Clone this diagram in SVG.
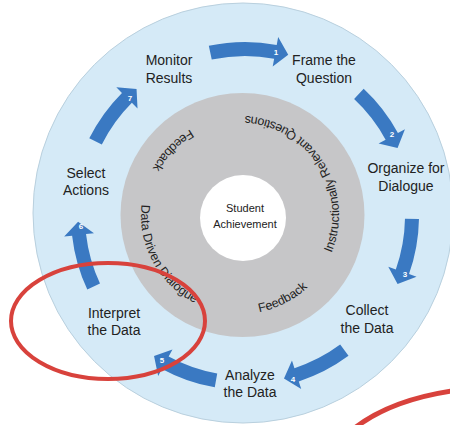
<svg xmlns="http://www.w3.org/2000/svg" xmlns:xlink="http://www.w3.org/1999/xlink" width="450" height="425" viewBox="0 0 450 425">
<style>
.lbl{font-family:"Liberation Sans","Open Sans",Arial,sans-serif;font-size:14px;fill:#222;text-anchor:middle}
.ring{font-family:"Liberation Sans","Open Sans",Arial,sans-serif;font-size:12.5px;fill:#222}
.ctr{font-family:"Liberation Sans","Open Sans",Arial,sans-serif;font-size:11px;fill:#222;text-anchor:middle}
.num{font-family:"Liberation Sans",Arial,sans-serif;font-size:8px;font-weight:bold;fill:#fff;text-anchor:middle}
.arr{fill:#3a79c2}
.red{fill:none;stroke:#d8423c;stroke-linecap:round}
</style>
<defs>
<path id="arrowStd" class="arr" d="M170.51,-34.69 A174 174 0 0 1 172.70,21.21 L180.64,22.18 L163.65,33.30 L150.87,18.52 L158.81,19.50 A160 160 0 0 0 156.79,-31.90 Z"/>
<path id="arrowLong" class="arr" d="M169.19,-40.62 A174 174 0 0 1 171.86,27.22 L179.76,28.47 L162.39,38.99 L150.13,23.78 L158.03,25.03 A160 160 0 0 0 155.58,-37.35 Z"/>
<path id="ringPath" d="M325.74,264.5 A99 99 0 0 0 154.26,165.5 A99 99 0 0 0 325.74,264.5"/>
</defs>
<rect width="450" height="425" fill="#fff"/>
<g id="background">
<circle cx="243" cy="213" r="210" fill="#d5eaf7" stroke="#b9d0de" stroke-width="1"/>
<circle cx="242.5" cy="215" r="122" fill="#c6c6c8"/>
<circle cx="243" cy="218" r="43" fill="#fff"/>
</g>
<g id="ring-text">
<text class="ring"><textPath xlink:href="#ringPath" startOffset="13">Instructionally</textPath></text>
<text class="ring"><textPath xlink:href="#ringPath" startOffset="93">Relevant Questions</textPath></text>
<text class="ring"><textPath xlink:href="#ringPath" startOffset="259">Feedback</textPath></text>
<text class="ring"><textPath xlink:href="#ringPath" startOffset="352">Data Driven Dialogue</textPath></text>
<text class="ring"><textPath xlink:href="#ringPath" startOffset="537">Feedback</textPath></text>
</g>
<g id="center">
<text class="ctr" x="245" y="212">Student</text>
<text class="ctr" x="245" y="228">Achievement</text>
</g>
<g id="connectors">
<g transform="translate(245,216)">
<use xlink:href="#arrowLong" transform="rotate(-88.5)"/>
<use xlink:href="#arrowStd" transform="rotate(-35.5)"/>
<use xlink:href="#arrowStd" transform="rotate(12.5)"/>
<use xlink:href="#arrowStd" transform="rotate(65)"/>
<use xlink:href="#arrowStd" transform="rotate(111.5)"/>
<use xlink:href="#arrowStd" transform="rotate(166.5)"/>
<use xlink:href="#arrowStd" transform="rotate(218)"/>
</g>
<text class="num" x="276" y="55">1</text>
<text class="num" x="392" y="137">2</text>
<text class="num" x="405" y="277">3</text>
<text class="num" x="293" y="382">4</text>
<text class="num" x="162" y="363">5</text>
<text class="num" x="81" y="229">6</text>
<text class="num" x="130" y="101">7</text>
</g>
<g id="monitor-results"><text class="lbl" x="169" y="65">Monitor</text><text class="lbl" x="169" y="83">Results</text></g>
<g id="frame-question"><text class="lbl" x="324" y="65">Frame the</text><text class="lbl" x="324" y="83">Question</text></g>
<g id="organize-dialogue"><text class="lbl" x="406" y="173">Organize for</text><text class="lbl" x="406" y="191">Dialogue</text></g>
<g id="collect-data"><text class="lbl" x="367" y="315">Collect</text><text class="lbl" x="367" y="333">the Data</text></g>
<g id="analyze-data"><text class="lbl" x="250" y="380">Analyze</text><text class="lbl" x="250" y="397">the Data</text></g>
<g id="interpret-data"><text class="lbl" x="114" y="318">Interpret</text><text class="lbl" x="114" y="335">the Data</text></g>
<g id="select-actions"><text class="lbl" x="86" y="178">Select</text><text class="lbl" x="86" y="195">Actions</text></g>
<g id="annotations">
<ellipse class="red" cx="108" cy="321" rx="97" ry="58" stroke-width="4"/>
<path class="red" d="M356,427 Q392,400 452,391" stroke-width="5"/>
</g>
</svg>
